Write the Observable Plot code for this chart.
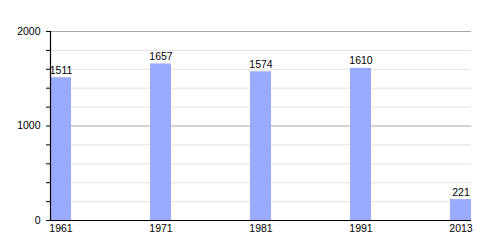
<!DOCTYPE html>
<html>
<head>
<meta charset="utf-8">
<script src="https://cdn.jsdelivr.net/npm/d3@7"></script>
<script src="https://cdn.jsdelivr.net/npm/@observablehq/plot@0.6"></script>
<style>
  body { margin: 0; background: #fff; }
  #chart svg { display: block; }
</style>
</head>
<body>
<div id="chart"></div>
<script>
const years = ["1961", "1971", "1981", "1991", "2013"];
const population = [1511, 1657, 1574, 1610, 221];
const majorTicks = [0, 1000, 2000];
const minorTicks = [200, 400, 600, 800, 1200, 1400, 1600, 1800];
const allTicks = [0, 200, 400, 600, 800, 1000, 1200, 1400, 1600, 1800, 2000];

const data = years.map((y, i) => ({year: y, value: population[i]}));

const chart = Plot.plot({
  width: 500,
  height: 250,
  marginLeft: 50,
  marginRight: 29,
  marginTop: 31,
  marginBottom: 30,
  style: {fontFamily: "Liberation Sans, Arial, sans-serif", fontSize: "10.5px", color: "#000", background: "#fff"},
  x: {type: "band", domain: years, paddingInner: 0.79, paddingOuter: 0, align: 0, label: null},
  y: {domain: [0, 2000], label: null},
  marks: [
    Plot.ruleY(minorTicks, {stroke: "#e2e2e2", strokeWidth: 1}),
    Plot.ruleY([1000, 2000], {stroke: "#a8a8a8", strokeWidth: 1}),
    Plot.barY(data, {x: "year", y: "value", fill: "#99aaff"}),
    Plot.text(data, {x: "year", y: "value", text: d => String(d.value), lineAnchor: "bottom", dy: -4, fill: "#000"}),
    Plot.axisY({ticks: allTicks, tickSize: 4, tickFormat: () => "", stroke: "#000"}),
    Plot.axisY({ticks: majorTicks, tickSize: 0, tickPadding: 10, tickFormat: d => String(d), fill: "#000"}),
    Plot.axisX({tickSize: 0, tickPadding: 4, fill: "#000"}),
    Plot.frame({anchor: "left", stroke: "#000", strokeWidth: 1.2}),
    Plot.ruleY([0], {stroke: "#000", strokeWidth: 1.2})
  ]
});
document.getElementById("chart").appendChild(chart);
</script>
</body>
</html>
